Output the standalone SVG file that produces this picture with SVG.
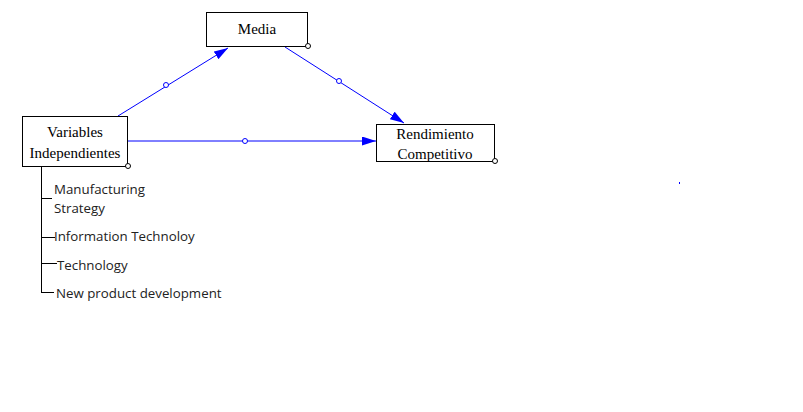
<svg xmlns="http://www.w3.org/2000/svg" width="803" height="412" viewBox="0 0 803 412">
<defs>
<style>
.box{fill:#fff;stroke:#000;stroke-width:1}
.bt{font-family:"Liberation Serif",serif;font-size:15px;fill:#000;text-anchor:middle}
.conn{stroke:#0000ff;stroke-width:1;fill:none}
.mid{fill:#fff;stroke:#0000ff;stroke-width:1}
.corner{fill:#fff;stroke:#000;stroke-width:1}
.tree{stroke:#000;stroke-width:1;fill:none}
.lt{font-family:"Open Sans","Liberation Sans",sans-serif;font-size:13.3px;fill:#222}
</style>
<marker id="ah" viewBox="0 0 14 9" refX="14" refY="4.5" markerWidth="14" markerHeight="9" markerUnits="userSpaceOnUse" orient="auto">
<path d="M0,0 L14,4.5 L0,9 Z" fill="#0000ff"/>
</marker>
</defs>
<rect width="803" height="412" fill="#fff"/>
<g id="connectors">
<line class="conn" x1="118" y1="116" x2="228" y2="48" marker-end="url(#ah)"/>
<circle class="mid" cx="166" cy="85" r="2.5"/>
<line class="conn" x1="285" y1="47" x2="404" y2="123" marker-end="url(#ah)"/>
<circle class="mid" cx="339" cy="81" r="2.5"/>
<line class="conn" x1="128" y1="141" x2="376" y2="141" marker-end="url(#ah)"/>
<circle class="mid" cx="245" cy="141" r="2.5"/>
</g>
<g id="media">
<rect class="box" x="206.5" y="12.5" width="101" height="34"/>
<text class="bt" x="257" y="34">Media</text>
<circle class="corner" cx="308" cy="46" r="2.5"/>
</g>
<g id="variables">
<rect class="box" x="22.5" y="116.5" width="105" height="50"/>
<text class="bt" x="75" y="137">Variables</text>
<text class="bt" x="75" y="158">Independientes</text>
<circle class="corner" cx="128" cy="166" r="2.5"/>
</g>
<g id="rendimiento">
<rect class="box" x="376.5" y="124.5" width="118" height="37"/>
<text class="bt" x="435" y="139">Rendimiento</text>
<text class="bt" x="435" y="159">Competitivo</text>
<circle class="corner" cx="495" cy="161" r="2.5"/>
</g>
<g id="list">
<path class="tree" d="M41.5,166 V292.5 M41,198.5 H52 M41,237.5 H55 M42,263.5 H57 M41,292.5 H54"/>
<text class="lt" x="54" y="194">Manufacturing</text>
<text class="lt" x="54" y="213">Strategy</text>
<text class="lt" x="54" y="241">Information Technoloy</text>
<text class="lt" x="57" y="270">Technology</text>
<text class="lt" x="56" y="298">New product development</text>
</g>
<rect x="679" y="182" width="1" height="2" fill="#0000ff"/>
</svg>
